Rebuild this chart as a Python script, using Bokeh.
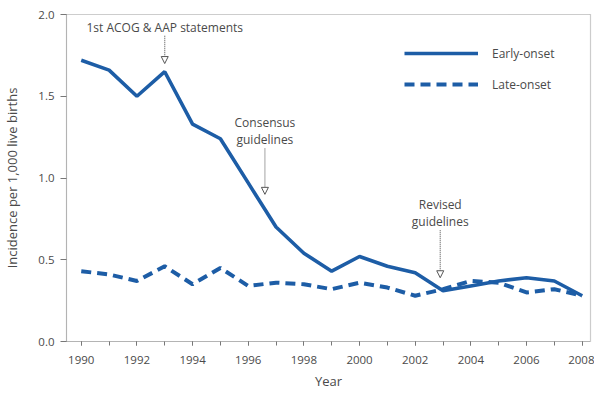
from bokeh.plotting import figure
from bokeh.models import (ColumnDataSource, Legend, LegendItem, Arrow, NormalHead,
                          Label, FixedTicker, PrintfTickFormatter, Range1d)
from bokeh.embed import file_html
from bokeh.resources import INLINE

years = list(range(1990, 2009))
early_onset = [1.72, 1.66, 1.50, 1.65, 1.33, 1.24, 0.97, 0.70, 0.54, 0.43,
               0.52, 0.46, 0.42, 0.31, 0.34, 0.37, 0.39, 0.37, 0.28]
late_onset = [0.43, 0.41, 0.37, 0.46, 0.35, 0.45, 0.34, 0.36, 0.35, 0.32,
              0.36, 0.33, 0.28, 0.32, 0.37, 0.36, 0.30, 0.32, 0.28]
y_ticks = [0.0, 0.5, 1.0, 1.5, 2.0]
x_ticks = list(range(1990, 2009, 2))

events = [
    {"text": ["1st ACOG & AAP statements"], "x": 1993.0, "ytext": 1.92, "y0": 1.87, "y1": 1.70},
    {"text": ["Consensus", "guidelines"], "x": 1996.6, "ytext": 1.34, "y0": 1.18, "y1": 0.90},
    {"text": ["Revised", "guidelines"], "x": 2002.9, "ytext": 0.84, "y0": 0.68, "y1": 0.39},
]

BLUE = "#1d5da6"
GREY_TXT = "#4a4a4a"
FONT = "Open Sans"

src = ColumnDataSource(dict(year=years, early=early_onset, late=late_onset))

p = figure(width=594, height=392, output_backend="svg", toolbar_location=None,
           x_range=Range1d(1989.47, 2008.3), y_range=Range1d(0, 2.0),
           min_border_left=59, min_border_right=4, min_border_top=14, min_border_bottom=0)
p.background_fill_color = "white"
p.border_fill_color = "white"
p.grid.visible = False
p.outline_line_color = "#9a9a9a"
p.outline_line_width = 1.2
p.outline_line_dash = "1 1"

r1 = p.line("year", "early", source=src, line_color=BLUE, line_width=3.6)
r2 = p.line("year", "late", source=src, line_color=BLUE, line_width=4, line_dash="10 6")

# axes
p.xaxis.ticker = FixedTicker(ticks=x_ticks, minor_ticks=years)
p.yaxis.ticker = FixedTicker(ticks=y_ticks)
p.yaxis.formatter = PrintfTickFormatter(format="%.1f")
for ax in (p.xaxis[0], p.yaxis[0]):
    ax.axis_line_color = "#9a9a9a"
    ax.axis_line_dash = "1 1"
    ax.major_tick_line_color = "#777777"
    ax.minor_tick_line_color = "#777777"
    ax.major_label_text_color = GREY_TXT
    ax.major_label_text_font = FONT
    ax.major_label_text_font_size = "11.5px"
    ax.axis_label_text_color = GREY_TXT
    ax.axis_label_text_font = FONT
    ax.axis_label_text_font_size = "13px"
    ax.axis_label_text_font_style = "normal"
p.xaxis.major_tick_in = 0
p.xaxis.major_tick_out = 4
p.xaxis.minor_tick_in = 0
p.xaxis.minor_tick_out = 4
p.xaxis.major_label_standoff = 10
p.yaxis.major_tick_in = 0
p.yaxis.major_tick_out = 6
p.yaxis.minor_tick_line_color = None
p.yaxis.major_label_standoff = 6
p.xaxis.axis_label = "Year"
p.yaxis.axis_label = "Incidence per 1,000 live births"
p.xaxis.axis_label_standoff = 5
p.yaxis.axis_label_standoff = 14

# annotations
for ev in events:
    for i, t in enumerate(ev["text"]):
        p.add_layout(Label(x=ev["x"], y=ev["ytext"], text=t, text_align="center",
                           text_baseline="middle", y_offset=-i * 17,
                           text_font=FONT, text_font_size="12px", text_color=GREY_TXT))
    p.add_layout(Arrow(x_start=ev["x"], y_start=ev["y0"], x_end=ev["x"], y_end=ev["y1"],
                       line_color="#666666", line_width=1.2, line_dash="1 1",
                       end=NormalHead(size=7, fill_color="white", line_color="#555555",
                                      line_width=1)))

legend = Legend(items=[LegendItem(label="Early-onset", renderers=[r1]),
                       LegendItem(label="Late-onset", renderers=[r2])],
                location=(338, 247), glyph_width=74, glyph_height=20, label_height=20,
                spacing=11, padding=0, margin=0, label_standoff=14,
                border_line_color=None, background_fill_alpha=0,
                label_text_font=FONT, label_text_font_size="12px", label_text_color=GREY_TXT)
p.add_layout(legend)

open("out.html", "w").write(file_html(p, INLINE))
